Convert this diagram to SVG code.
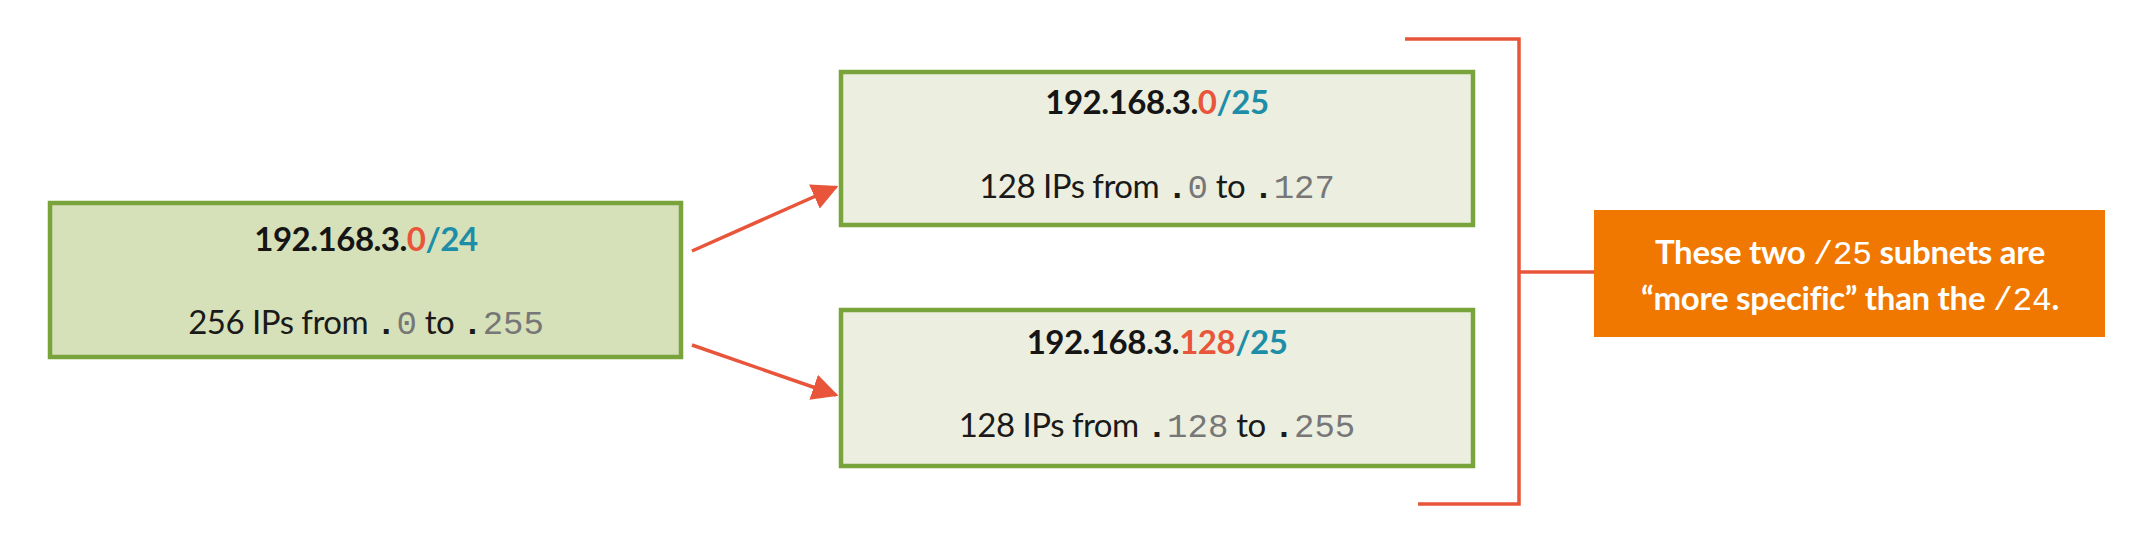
<svg xmlns="http://www.w3.org/2000/svg" width="2141" height="549" viewBox="0 0 2141 549">
<defs>
<style>
.box{stroke:#79A33B;stroke-width:4.5}
.t{font-family:Lato,"Liberation Sans",sans-serif;font-size:33px;font-weight:700;fill:#151515;text-anchor:middle;letter-spacing:-0.5px}
.s{font-family:Lato,"Liberation Sans",sans-serif;font-size:33px;fill:#1a1a1a;text-anchor:middle;letter-spacing:-0.5px}
.m{font-family:"Liberation Mono","DejaVu Sans Mono",monospace;fill:#777;font-size:34px;letter-spacing:0}
.md{font-family:"Liberation Mono","DejaVu Sans Mono",monospace;fill:#1a1a1a;font-weight:700;font-size:34px;letter-spacing:0}
.r{fill:#E8553A}
.b{fill:#1E8EA8}
.conn{stroke:#E8553A;stroke-width:3.5;fill:none}
.w{font-family:Lato,"Liberation Sans",sans-serif;font-size:33px;font-weight:700;fill:#fff;text-anchor:middle;letter-spacing:-0.3px}
.wm{font-family:"Liberation Mono","DejaVu Sans Mono",monospace;font-weight:400;font-size:33px}
</style>
<marker id="ah2" viewBox="0 0 10 10" refX="9" refY="5" markerWidth="7.5" markerHeight="7.5" orient="auto">
<path d="M0,0 L10,5 L0,10 z" fill="#E8553A"/>
</marker>
</defs>
<rect width="2141" height="549" fill="#fff"/>
<g id="connectors">
<line class="conn" x1="692" y1="251" x2="836" y2="187" marker-end="url(#ah2)"/>
<line class="conn" x1="692" y1="345" x2="836" y2="395" marker-end="url(#ah2)"/>
<path class="conn" d="M1405,39 H1519 V504 H1418"/>
<line class="conn" x1="1519" y1="272" x2="1594" y2="272"/>
</g>
<g id="node-24">
<rect class="box" x="50" y="203" width="631" height="154" fill="#D6E1B9"/>
<text class="t" x="366" y="251">192.168.3.<tspan class="r">0</tspan><tspan class="b">/24</tspan></text>
<text class="s" x="366" y="334">256 IPs from <tspan class="md">.</tspan><tspan class="m">0</tspan> to <tspan class="md">.</tspan><tspan class="m">255</tspan></text>
</g>
<g id="node-0-25">
<rect class="box" x="841" y="72" width="632" height="153" fill="#ECEFDF"/>
<text class="t" x="1157" y="114">192.168.3.<tspan class="r">0</tspan><tspan class="b">/25</tspan></text>
<text class="s" x="1157" y="198">128 IPs from <tspan class="md">.</tspan><tspan class="m">0</tspan> to <tspan class="md">.</tspan><tspan class="m">127</tspan></text>
</g>
<g id="node-128-25">
<rect class="box" x="841" y="310" width="632" height="156" fill="#ECEFDF"/>
<text class="t" x="1157" y="354">192.168.3.<tspan class="r">128</tspan><tspan class="b">/25</tspan></text>
<text class="s" x="1157" y="437">128 IPs from <tspan class="md">.</tspan><tspan class="m">128</tspan> to <tspan class="md">.</tspan><tspan class="m">255</tspan></text>
</g>
<g id="note">
<rect x="1594" y="210" width="511" height="127" fill="#F07800"/>
<text class="w" x="1850" y="264">These two <tspan class="wm">/25</tspan> subnets are</text>
<text class="w" x="1850" y="310">“more specific” than the <tspan class="wm">/24</tspan>.</text>
</g>
</svg>
